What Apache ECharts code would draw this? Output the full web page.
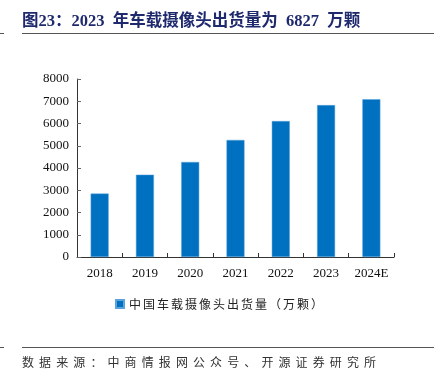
<!DOCTYPE html>
<html><head><meta charset="utf-8">
<script src="https://cdn.jsdelivr.net/npm/echarts@6/dist/echarts.min.js"></script>
<style>html,body{margin:0;padding:0;background:#fff}#c{width:439px;height:370px}</style>
</head><body><div id="c"></div>
<script>
const categories = ['2018','2019','2020','2021','2022','2023','2024E'];
const shipments = [2850, 3700, 4270, 5260, 6110, 6827, 7090];
const seriesName = '中国车载摄像头出货量（万颗）';
const titleText = '图23：2023 年车载摄像头出货量为 6827 万颗';
const sourceText = '数据来源：中商情报网公众号、开源证券研究所';

const sourceChars = sourceText.split('').map((ch, i) => ({
  type: 'text', left: 22 + i * 17.1, top: 356,
  style: {text: ch, font: '12px "Noto Sans CJK SC"', fill: '#333'}
}));

const chart = echarts.init(document.getElementById('c'));
chart.setOption({
  animation: false,
  backgroundColor: '#fff',
  title: {
    text: titleText.replace(/ /g, '\u2002'), left: 17, top: 8,
    textStyle: {fontFamily: '"Liberation Serif","Noto Sans CJK SC",serif', fontWeight: 'bold', fontSize: 16.5, color: '#1F2A6E'}
  },
  graphic: [
    {type: 'line', shape: {x1: 22, y1: 33.5, x2: 434, y2: 33.5}, style: {stroke: '#555', lineWidth: 1}},
    {type: 'line', shape: {x1: 0, y1: 33.5, x2: 4, y2: 33.5}, style: {stroke: '#555', lineWidth: 1}},
    {type: 'line', shape: {x1: 22, y1: 347.5, x2: 434, y2: 347.5}, style: {stroke: '#555', lineWidth: 1}},
    {type: 'line', shape: {x1: 0, y1: 347.5, x2: 4, y2: 347.5}, style: {stroke: '#555', lineWidth: 1}}
  ].concat(sourceChars),
  legend: {
    data: [seriesName], left: 115, top: 298, padding: 0, itemWidth: 8, itemHeight: 8, icon: 'rect',
    formatter: n => n.split('').join('\u2006'),
    textStyle: {fontFamily: '"Noto Sans CJK SC"', fontSize: 12, color: '#222'}
  },
  grid: {left: 77, right: 45, top: 79, bottom: 113},
  xAxis: {
    type: 'category', data: categories,
    axisLine: {lineStyle: {color: '#333'}},
    axisTick: {show: true, inside: true, lineStyle: {color: '#333'}, length: 4},
    axisLabel: {fontFamily: '"Liberation Serif",serif', fontSize: 13, color: '#111', margin: 10}
  },
  yAxis: {
    type: 'value', min: 0, max: 8000, interval: 1000,
    splitLine: {show: false},
    axisLine: {show: true, lineStyle: {color: '#333'}},
    axisTick: {show: true, inside: true, lineStyle: {color: '#666'}, length: 4},
    axisLabel: {fontFamily: '"Liberation Serif",serif', fontSize: 13, color: '#111', margin: 8, formatter: v => String(v)}
  },
  series: [{
    name: seriesName, type: 'bar', data: shipments, barWidth: 18,
    itemStyle: {color: '#0070C0', borderColor: '#5BA3DC', borderWidth: 0.5}
  }]
});
</script></body></html>
